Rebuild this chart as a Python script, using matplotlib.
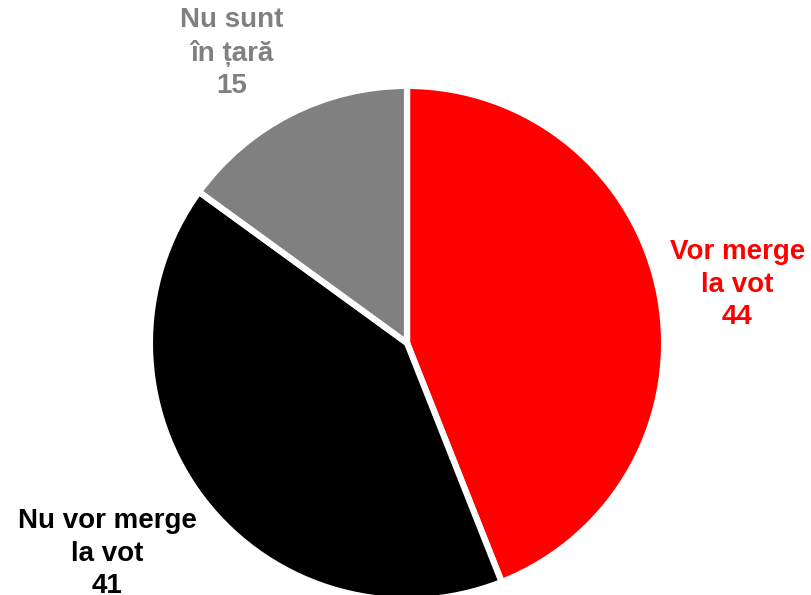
import matplotlib.pyplot as plt

# date sondaj
labels = ["Vor merge\nla vot", "Nu vor merge\nla vot", "Nu sunt\nîn țară"]
values = [44, 41, 15]
colors = ["#FF0000", "#000000", "#808080"]

# pozitii etichete (coord. date, raza = 1)
label_pos = [(1.30, 0.23), (-1.18, -0.83), (-0.69, 1.14)]

fig = plt.figure(figsize=(8.12, 5.95), dpi=100)
ax = fig.add_axes([0, 0, 1, 1])

wedges, _ = ax.pie(values, colors=colors, startangle=90, counterclock=False,
                   radius=1.012, wedgeprops=dict(edgecolor="white", linewidth=4.5))

for (x, y), lab, val, col in zip(label_pos, labels, values, colors):
    ax.text(x, y, lab + "\n" + str(val), ha="center", va="center",
            color=col, fontsize=20, fontweight="bold",
            family=["Liberation Sans", "DejaVu Sans"], linespacing=1.32)

ax.set_xlim(-1.602, 1.594)
ax.set_ylim(-0.992, 1.350)
ax.set_aspect("equal")
ax.axis("off")

plt.savefig("out.png", dpi=100)
